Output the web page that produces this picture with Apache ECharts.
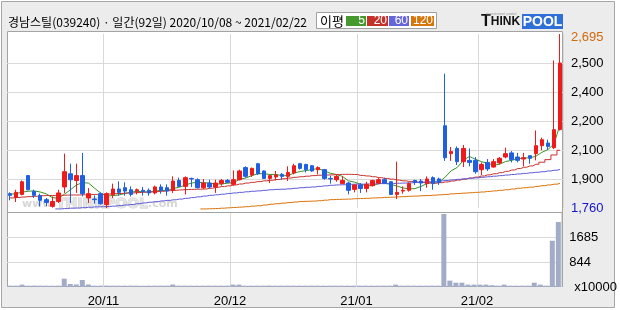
<!DOCTYPE html>
<html><head><meta charset="utf-8">
<script src="https://cdn.jsdelivr.net/npm/echarts@6/dist/echarts.min.js"></script>
<style>html,body{margin:0;padding:0;background:#fff}#c{width:620px;height:310px}</style>
</head><body><div id="c"></div>
<script>
const titleText = '경남스틸(039240) · 일간(92일) 2020/10/08 ~ 2021/02/22';
const dates = [
'2020/10/08','2020/10/12','2020/10/13','2020/10/14','2020/10/15','2020/10/16','2020/10/19','2020/10/20','2020/10/21','2020/10/22','2020/10/23','2020/10/26','2020/10/27','2020/10/28','2020/10/29','2020/10/30',
'2020/11/02','2020/11/03','2020/11/04','2020/11/05','2020/11/06','2020/11/09','2020/11/10','2020/11/11','2020/11/12','2020/11/13','2020/11/16','2020/11/17','2020/11/18','2020/11/19','2020/11/20','2020/11/23','2020/11/24','2020/11/25','2020/11/26','2020/11/27','2020/11/30',
'2020/12/01','2020/12/02','2020/12/03','2020/12/04','2020/12/07','2020/12/08','2020/12/09','2020/12/10','2020/12/11','2020/12/14','2020/12/15','2020/12/16','2020/12/17','2020/12/18','2020/12/21','2020/12/22','2020/12/23','2020/12/24','2020/12/28','2020/12/29','2020/12/30',
'2021/01/04','2021/01/05','2021/01/06','2021/01/07','2021/01/08','2021/01/11','2021/01/12','2021/01/13','2021/01/14','2021/01/15','2021/01/18','2021/01/19','2021/01/20','2021/01/21','2021/01/22','2021/01/25','2021/01/26','2021/01/27','2021/01/28','2021/01/29',
'2021/02/01','2021/02/02','2021/02/03','2021/02/04','2021/02/05','2021/02/08','2021/02/09','2021/02/10','2021/02/15','2021/02/16','2021/02/17','2021/02/18','2021/02/19','2021/02/22'];
const openP = [1837,1817,1833,1934,1848,1826,1805,1769,1795,1873,
 1944,1908,1934,1814,1808,1837,1778,1831,1862,1869,
 1858,1851,1855,1855,1841,1873,1869,1855,1908,1876,
 1919,1912,1869,1894,1873,1891,1908,1887,1912,1977,
 1937,1998,1959,1919,1927,1941,1930,1948,1998,1994,
 1987,1966,1966,1919,1912,1891,1894,1860,1884,1865,
 1880,1894,1912,1901,1833,1851,1855,1908,1905,1891,
 1923,1916,2202,2052,2080,2009,2016,2016,1966,2005,
 1980,2002,2034,2056,2034,2023,2041,2052,2095,2109,
 2084,2181];
const closeP = [1828,1844,1901,1858,1828,1801,1790,1795,1841,1955,
 1912,1934,1837,1837,1805,1783,1837,1862,1844,1851,
 1833,1858,1849,1841,1873,1855,1851,1905,1876,1923,
 1916,1869,1894,1873,1894,1908,1898,1912,1959,1930,
 1973,1944,1919,1934,1937,1930,1951,1987,1973,1966,
 1959,1977,1919,1916,1930,1908,1855,1884,1865,1887,
 1908,1912,1894,1833,1844,1855,1891,1898,1894,1916,
 1891,1898,2030,2063,2009,2080,2005,1955,1994,1970,
 2009,2027,2052,2020,2016,2030,2027,2095,2127,2091,
 2181,2539];
const lowP = [1801,1792,1828,1855,1814,1769,1769,1762,1787,1841,
 1787,1841,1822,1787,1783,1778,1760,1814,1826,1826,
 1822,1833,1826,1826,1833,1837,1826,1841,1873,1833,
 1873,1865,1862,1865,1841,1880,1894,1880,1908,1923,
 1927,1937,1916,1894,1908,1912,1905,1941,1966,1951,
 1955,1941,1912,1891,1901,1891,1833,1844,1841,1844,
 1876,1887,1891,1830,1808,1837,1848,1884,1851,1869,
 1858,1884,2013,2013,1991,1980,1984,1944,1937,1959,
 1977,1994,2027,2005,2005,1984,1998,2016,2070,2073,
 2077,2177];
const highP = [1844,1858,1908,1937,1858,1837,1814,1822,1858,2052,
 1998,1998,2056,1867,1828,1844,1844,1891,1903,1898,
 1876,1865,1873,1865,1880,1887,1887,1930,1923,1930,
 1923,1919,1916,1912,1912,1916,1916,1962,1966,1984,
 1977,2002,1962,1937,1959,1948,1984,1998,2002,1998,
 1991,1984,1970,1934,1937,1930,1901,1887,1894,1901,
 1912,1923,1923,1905,2009,1876,1898,1912,1916,1930,
 1930,1923,2482,2088,2091,2099,2080,2034,2005,2023,
 2023,2034,2084,2066,2056,2056,2045,2177,2138,2127,
 2553,2695];
const volume = [45,45,80,45,48,45,45,42,45,280,
 100,85,236,85,45,45,48,45,45,45,
 45,45,42,45,45,45,45,85,45,45,
 45,45,45,45,45,45,45,80,80,45,
 45,45,45,48,45,45,45,45,45,45,
 45,45,45,45,45,45,45,45,45,45,
 45,45,45,45,80,45,45,45,45,45,
 45,45,2460,214,145,145,80,80,80,80,
 60,45,80,45,45,45,45,145,80,45,
 1560,2190];
const ma5 = [1833,1838,1845,1850,1852,1846,1836,1816,1812,1834,
 1858,1884,1896,1894,1866,1840,1824,1827,1830,1838,
 1845,1850,1847,1846,1851,1855,1854,1865,1872,1883,
 1894,1898,1896,1894,1889,1889,1893,1897,1914,1921,
 1934,1944,1945,1940,1941,1933,1934,1948,1956,1961,
 1967,1972,1959,1947,1940,1930,1906,1899,1888,1880,
 1880,1891,1893,1887,1878,1868,1863,1864,1876,1891,
 1898,1899,1926,1960,1978,2016,2037,2022,2009,2001,
 1990,1995,2010,2016,2025,2029,2029,2038,2059,2074,
 2104,2205];
const ma20 = [1814,1816,1819,1821,1823,1826,1827,1827,1828,1829,
 1830,1830,1831,1832,1833,1833,1835,1837,1838,1840,
 1841,1843,1845,1846,1848,1850,1853,1855,1857,1859,
 1860,1861,1862,1866,1871,1875,1879,1884,1889,1894,
 1898,1902,1906,1909,1913,1917,1921,1925,1928,1931,
 1934,1936,1937,1938,1940,1941,1941,1940,1935,1932,
 1928,1923,1919,1915,1910,1906,1903,1900,1897,1895,
 1893,1896,1900,1905,1910,1915,1921,1926,1932,1938,
 1944,1950,1957,1964,1972,1979,1986,1995,2006,2020,
 2045,2070];
const ma60 = [null,null,null,null,null,null,null,null,1755,1757,
 1759,1760,1762,1764,1766,1767,1768,1770,1773,1776,
 1779,1783,1787,1791,1794,1798,1801,1804,1808,1812,
 1816,1820,1824,1828,1831,1834,1838,1841,1844,1847,
 1850,1852,1855,1858,1860,1861,1863,1866,1869,1871,
 1873,1876,1879,1882,1884,1885,1887,1888,1888,1889,
 1890,1891,1891,1891,1893,1894,1895,1897,1899,1901,
 1903,1905,1908,1911,1914,1917,1920,1922,1925,1928,
 1931,1934,1937,1940,1943,1946,1949,1952,1955,1959,
 1963,1967];
const ma120 = [null,null,null,null,null,null,null,null,null,null,
 null,null,null,null,null,null,null,null,null,null,
 null,null,null,null,null,null,null,null,null,null,
 null,null,1755,1756,1757,1759,1761,1763,1765,1767,
 1770,1772,1776,1780,1783,1786,1789,1792,1795,1796,
 1797,1799,1802,1805,1806,1807,1808,1810,1811,1812,
 1814,1815,1817,1818,1820,1821,1823,1824,1826,1827,
 1829,1831,1833,1836,1838,1840,1842,1844,1846,1849,
 1852,1855,1858,1862,1866,1869,1872,1876,1880,1884,
 1888,1892];
const priceMin = 1760, priceMax = 2695;
const priceTickLabels = ['1,760','1,900','2,100','2,200','2,400','2,500','2,695'];
const volMax = 2528;
const volTickLabels = ['x10000','844','1685',''];
const monthTicks = ['2020/11/02','2020/12/01','2021/01/04','2021/02/01'];
const monthLabels = ['20/11','20/12','21/01','21/02'];
const maNames = ['5','20','60','120'];
const maColors = ['#3a9426','#c8302c','#5d5ad8','#da7206'];
const legendColors = ['#45992f','#c4322c','#6666d8','#d9760b'];

const numFont = "'Liberation Sans',Arial,sans-serif";
const gridColor = '#d9d9d9';
const isMonth = (i, v) => monthTicks.indexOf(v) >= 0;

const chart = echarts.init(document.getElementById('c'), null, {renderer: 'canvas'});

const graphics = [
  {type: 'rect', shape: {x: 1.5, y: 1.5, width: 613, height: 306}, style: {fill: '#ececec', stroke: '#a6a6a6', lineWidth: 1}, z: -20, silent: true},
  {type: 'rect', shape: {x: 7.5, y: 31.5, width: 555, height: 255}, style: {fill: '#ffffff', stroke: '#a3a3a3', lineWidth: 1}, z: -10, silent: true},
  {type: 'line', shape: {x1: 7, y1: 212.5, x2: 563, y2: 212.5}, style: {stroke: '#a3a3a3', lineWidth: 1}, z: 20, silent: true},
  {type: 'text', x: 8, y: 22, style: {text: titleText, font: "12px 'Noto Sans CJK KR'", fill: '#000', verticalAlign: 'middle'}, z: 5},
  {type: 'rect', shape: {x: 316.5, y: 12.5, width: 120, height: 16}, style: {fill: '#fff', stroke: '#a0a0a0', lineWidth: 1}, z: 5},
  {type: 'text', x: 320, y: 21, style: {text: '이평', font: "13px 'Noto Sans CJK KR'", fill: '#000', verticalAlign: 'middle'}, z: 6},
  {type: 'text', x: 481, y: 22, style: {text: '{a|T}{b|HINK}', rich: {a: {font: "bold 16px 'Liberation Sans'", fill: '#111'}, b: {font: "bold 12px 'Liberation Sans'", fill: '#111'}}, verticalAlign: 'middle'}, z: 6},
  {type: 'text', x: 486, y: 14, style: {text: 'investment portal', font: "4px 'Liberation Sans'", fill: '#999', verticalAlign: 'middle'}, z: 6},
  {type: 'rect', shape: {x: 522, y: 14, width: 41, height: 15}, style: {fill: '#2f6fd8'}, z: 5},
  {type: 'text', x: 542.5, y: 22, style: {text: 'POOL', font: "bold 14px 'Liberation Sans'", fill: '#fff', align: 'center', verticalAlign: 'middle'}, z: 6},
  {type: 'text', x: 22, y: 204, style: {text: '{s|www.}{b|THINKPOOL}{s|.com}', rich: {s: {font: "bold 11px 'DejaVu Sans'", fill: '#d6d6d6'}, b: {font: "bold 14px 'DejaVu Sans'", fill: '#e4e4e4', stroke: '#cccccc', lineWidth: 1}}, verticalAlign: 'middle'}, z: 1, silent: true}
];
const boxes = [[346, 20], [367, 21], [389, 20], [411, 23]];
boxes.forEach((b, k) => {
  graphics.push({type: 'rect', shape: {x: b[0], y: 16, width: b[1], height: 10}, style: {fill: legendColors[k]}, z: 6});
  graphics.push({type: 'text', x: b[0] + b[1] - 1, y: 21, style: {text: maNames[k], font: "12px " + numFont, fill: '#fff', align: 'right', verticalAlign: 'middle'}, z: 7});
});

const maSeries = [ma5, ma20, ma60, ma120].map((d, k) => ({
  name: 'MA' + maNames[k], type: 'line', xAxisIndex: 0, yAxisIndex: 0, data: d,
  symbol: 'none', showSymbol: false, step: k === 0 ? false : 'middle', clip: false, silent: true,
  lineStyle: {width: 1, color: maColors[k]}, z: 3
}));

chart.setOption({
  animation: false,
  backgroundColor: '#ffffff',
  grid: [
    {left: 7, width: 556, top: 34, height: 174},
    {left: 7, width: 556, top: 212, height: 75}
  ],
  xAxis: [
    {type: 'category', gridIndex: 0, data: dates, boundaryGap: true,
     axisLine: {show: false}, axisTick: {show: false}, axisLabel: {show: false},
     splitLine: {show: true, interval: isMonth, lineStyle: {color: gridColor, width: 1}}},
    {type: 'category', gridIndex: 1, data: dates, boundaryGap: true,
     axisLine: {show: false}, axisTick: {show: false},
     axisLabel: {show: true, interval: isMonth, margin: 8, color: '#000', fontSize: 13, fontFamily: numFont,
       padding: [0, 6, 0, 0],
       formatter: v => { const k = monthTicks.indexOf(v); return k >= 0 ? monthLabels[k] : ''; }},
     splitLine: {show: true, interval: isMonth, lineStyle: {color: gridColor, width: 1}}}
  ],
  yAxis: [
    {type: 'value', gridIndex: 0, min: priceMin, max: priceMax, position: 'left', scale: true,
     axisLine: {show: false}, axisTick: {show: false}, axisLabel: {show: false}, splitLine: {show: false}},
    {type: 'value', gridIndex: 0, min: 0, max: priceTickLabels.length - 1, interval: 1, position: 'right',
     axisLine: {show: false}, axisTick: {show: false},
     splitLine: {show: true, showMinLine: false, showMaxLine: false, lineStyle: {color: gridColor, width: 1}},
     axisLabel: {margin: 8, fontSize: 13, fontFamily: numFont, color: '#000',
       formatter: v => { const i = Math.round(v); const t = priceTickLabels[i];
         if (i === priceTickLabels.length - 1) return '{o|' + t + '}';
         if (i === 0) return '{b|' + t + '}';
         return t; },
       rich: {o: {color: '#d4690a', fontSize: 13, fontFamily: numFont, padding: [7, 0, 0, 0]},
              b: {color: '#1414c8', fontSize: 13, fontFamily: numFont}}}},
    {type: 'value', gridIndex: 1, min: 0, max: volMax, interval: volMax / 3, position: 'right',
     axisLine: {show: false}, axisTick: {show: false},
     splitLine: {show: true, showMinLine: false, showMaxLine: false, lineStyle: {color: gridColor, width: 1}},
     axisLabel: {margin: 8, fontSize: 13, fontFamily: numFont, color: '#000',
       formatter: (v, i) => i === 0 ? '{x|' + volTickLabels[0] + '}' : (volTickLabels[i] || ''),
       rich: {x: {fontSize: 13, fontFamily: numFont, color: '#000', padding: [0, 0, 0, 5]}}}}
  ],
  series: [
    ...maSeries,
    {name: 'price', type: 'candlestick', xAxisIndex: 0, yAxisIndex: 0,
     data: dates.map((d, i) => [openP[i], closeP[i], lowP[i], highP[i]]),
     barWidth: 4, clip: false, z: 5, silent: true,
     itemStyle: {color: '#f01a1a', color0: '#1f5fe2', borderColor: '#f01a1a', borderColor0: '#1f5fe2', borderWidth: 1}},
    {name: 'volume', type: 'bar', xAxisIndex: 1, yAxisIndex: 2, data: volume, barWidth: 5, silent: true,
     itemStyle: {color: '#a3acc6'}}
  ],
  graphic: {elements: graphics}
});
</script></body></html>
